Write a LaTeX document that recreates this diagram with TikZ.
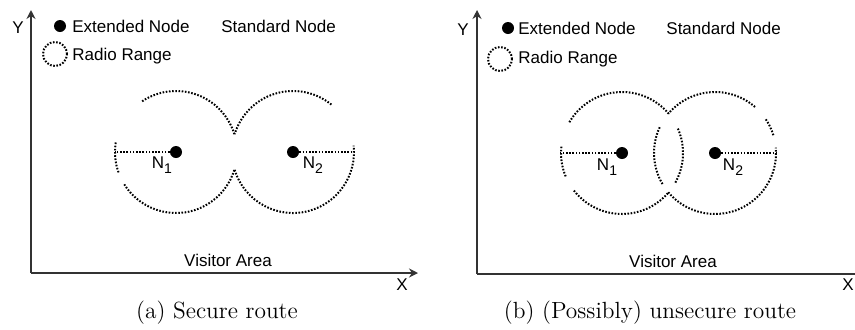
\documentclass[tikz,border=0pt]{standalone}
\usepackage{fontspec}
\newfontfamily\labelfont{Liberation Sans}
\usetikzlibrary{arrows.meta}
\tikzset{
  axis/.style={line width=1pt,black!80},
  axtip/.style={-{Stealth[length=4.5pt,width=4.5pt]}},
  rangeline/.style={line width=1pt,dash pattern=on 0.8pt off 0.8pt},
  extnode/.style={circle,fill,inner sep=0pt,minimum size=6pt},
  txt/.style={font=\labelfont\fontsize{8.5}{10}\selectfont,inner sep=0pt},
  captxt/.style={font=\fontsize{11.7}{14}\selectfont,inner sep=0pt}
}
\newcommand{\subn}[1]{N\raisebox{-2.5pt}{\fontsize{7}{8}\selectfont #1}}
\begin{document}
\begin{tikzpicture}[x=0.5pt,y=0.5pt]
  \useasboundingbox (0,0) rectangle (855,329);
  % (a) secure route
  \begin{scope}
    \coordinate (oa) at (31,56);
    \coordinate (ya) at (31,319);
    \coordinate (xa) at (418,56);
    \draw[axis,axtip] (oa) -- (ya);
    \draw[axis,axtip] (oa) -- (xa);
    \node[txt] (yla) at (18,301) {Y};
    \node[txt] (xla) at (402,44) {X};
    % legend
    \node[extnode] (dota) at (60,303) {};
    \node[txt,anchor=west] (exta) at (72,303) {Extended Node};
    \node[txt,anchor=west] (stda) at (221,303) {Standard Node};
    \node[rangeline,circle,draw,minimum size=12pt,inner sep=0pt] (rra) at (55,275) {};
    \node[txt,anchor=west] (rtxa) at (72,273) {Radio Range};
    % nodes and ranges
    \node[extnode] (n1a) at (176,177) {};
    \node[extnode] (n2a) at (293,177) {};
    \coordinate (e1a) at (115,177);
    \coordinate (e2a) at (354,177);
    \draw[rangeline] (n1a) -- (e1a);
    \draw[rangeline] (n2a) -- (e2a);
    \foreach \a/\b in {17/125,171/200,212/343}
      \draw[rangeline] (n1a.center) ++(\a:61) arc[start angle=\a,end angle=\b,radius=61];
    \foreach \a/\b in {51/163,197/366}
      \draw[rangeline] (n2a.center) ++(\a:61) arc[start angle=\a,end angle=\b,radius=61];
    \node[txt] (l1a) at (162,164) {\subn{1}};
    \node[txt] (l2a) at (313,164) {\subn{2}};
    \node[txt] (visa) at (228,69) {Visitor Area};
    \node[captxt] (capa) at (217,16) {(a) Secure route};
  \end{scope}
  % (b) possibly unsecure route
  \begin{scope}[xshift=223pt]
    \coordinate (ob) at (31,55);
    \coordinate (yb) at (31,319);
    \coordinate (xb) at (409,55);
    \draw[axis,axtip] (ob) -- (yb);
    \draw[axis] (ob) -- (xb);
    \node[txt] (ylb) at (17,299) {Y};
    \node[txt] (xlb) at (402,44) {X};
    % legend
    \node[extnode] (dotb) at (62,301) {};
    \node[txt,anchor=west] (extb) at (72,301) {Extended Node};
    \node[txt,anchor=west] (stdb) at (220,301) {Standard Node};
    \node[rangeline,circle,draw,minimum size=12pt,inner sep=0pt] (rrb) at (54,270) {};
    \node[txt,anchor=west] (rtxb) at (72,270) {Radio Range};
    % nodes and ranges
    \node[extnode] (n1b) at (176,176) {};
    \node[extnode] (n2b) at (269,176) {};
    \coordinate (e1b) at (114,176);
    \coordinate (e2b) at (331,176);
    \draw[rangeline] (n1b) -- (e1b);
    \draw[rangeline] (n2b) -- (e2b);
    \foreach \a/\b in {40/150,174/203,218/320,-29/25}
      \draw[rangeline] (n1b.center) ++(\a:61) arc[start angle=\a,end angle=\b,radius=61];
    \foreach \a/\b in {49/140,155/211,220/365,17/35}
      \draw[rangeline] (n2b.center) ++(\a:61) arc[start angle=\a,end angle=\b,radius=61];
    \node[txt] (l1b) at (161,162) {\subn{1}};
    \node[txt] (l2b) at (287,162) {\subn{2}};
    \node[txt] (visb) at (227,68) {Visitor Area};
    \node[captxt] (capb) at (204,16) {(b) (Possibly) unsecure route};
  \end{scope}
\end{tikzpicture}
\end{document}
